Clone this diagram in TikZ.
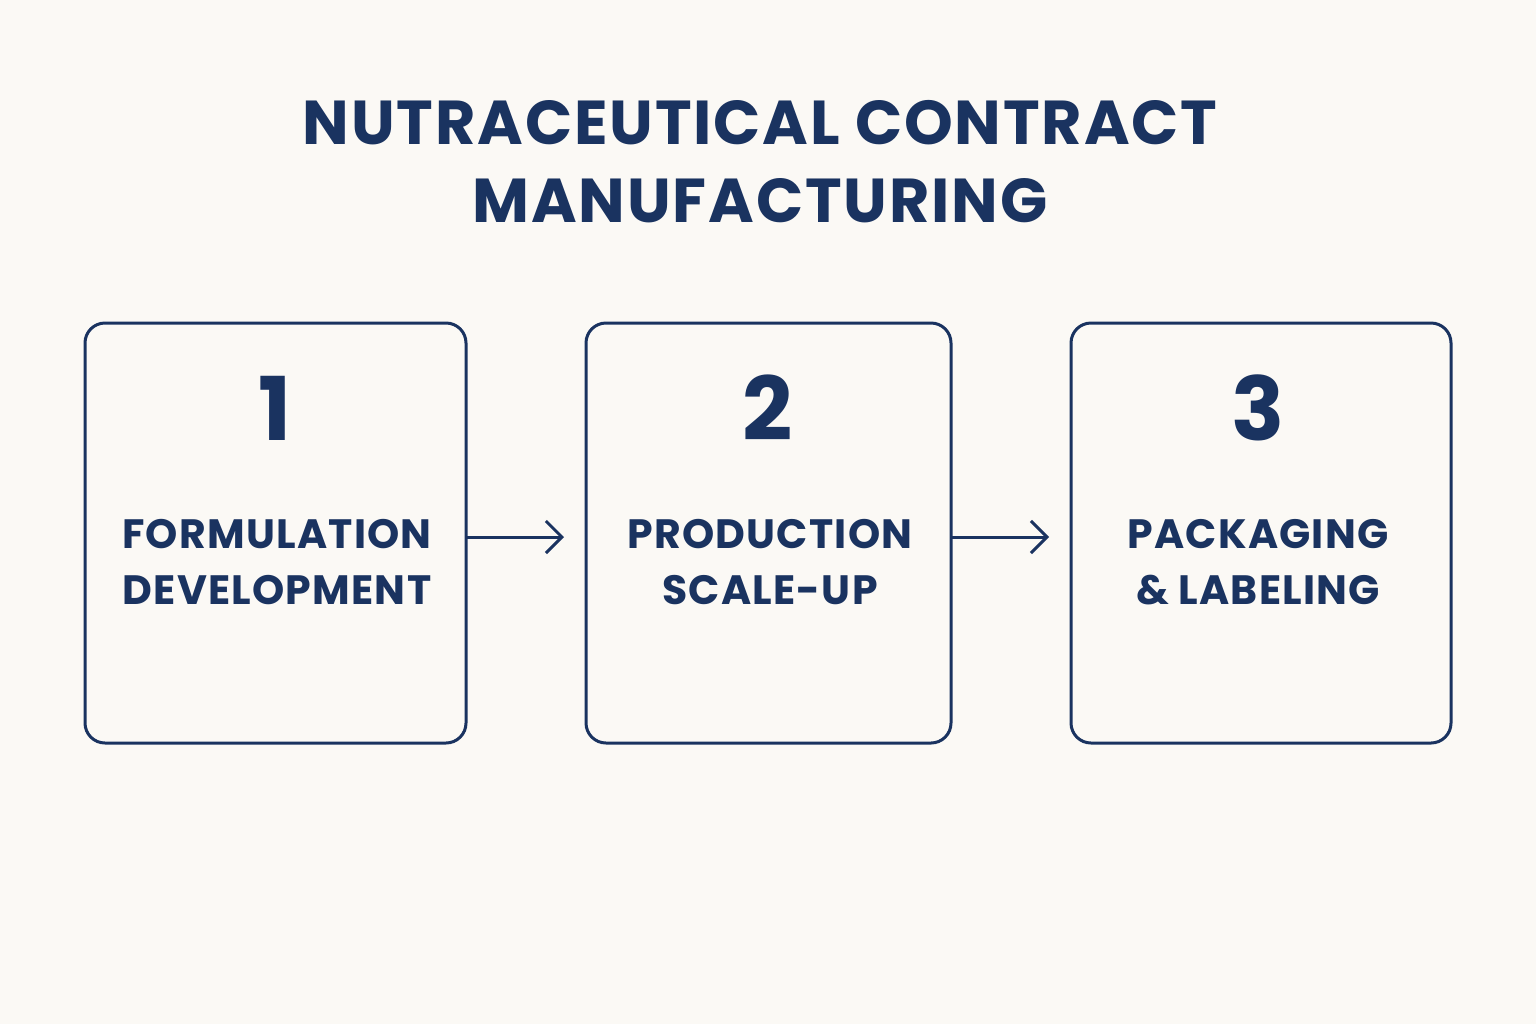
\documentclass[tikz,border=0pt]{standalone}
\usepackage{fontspec}
\setmainfont{Poppins}[LetterSpace=3]
\usetikzlibrary{arrows.meta}
\definecolor{navy}{HTML}{1A3360}
\definecolor{bg}{HTML}{FBF9F5}
\begin{document}
\begin{tikzpicture}[x=0.5pt,y=-0.5pt,
  stepbox/.style={draw=navy,line width=1.5pt,rounded corners=10pt},
  num/.style={text=navy,font=\fontsize{44}{50}\selectfont\bfseries},
  lab/.style={text=navy,font=\fontsize{20.5}{28}\selectfont\bfseries,align=center},
  conn/.style={draw=navy,line width=1.5pt,-{Straight Barb[length=8pt,width=16pt,line width=1.5pt]}}]
\fill[bg] (0,0) rectangle (1536,1024);
\node[text=navy,font=\fontsize{31}{39}\selectfont\bfseries,align=center] (title) at (760,162) {NUTRACEUTICAL CONTRACT\\MANUFACTURING};
\draw[stepbox] (85,323) rectangle (466,743);
\draw[stepbox] (586,323) rectangle (951,743);
\draw[stepbox] (1071,323) rectangle (1451,743);
\coordinate (b1r) at (466,537); \coordinate (b2l) at (564,537);
\coordinate (b2r) at (951,537); \coordinate (b3l) at (1049,537);
\node[num] (n1) at (275,408) {1};
\node[num] (n2) at (768,408) {2};
\node[num] (n3) at (1258,408) {3};
\node[lab] (l1) at (277,562) {FORMULATION\\DEVELOPMENT};
\node[lab] (l2) at (770,562) {PRODUCTION\\SCALE-UP};
\node[lab] (l3) at (1258,562) {PACKAGING\\\& LABELING};
\draw[conn] (b1r) -- (b2l);
\draw[conn] (b2r) -- (b3l);
\end{tikzpicture}
\end{document}
